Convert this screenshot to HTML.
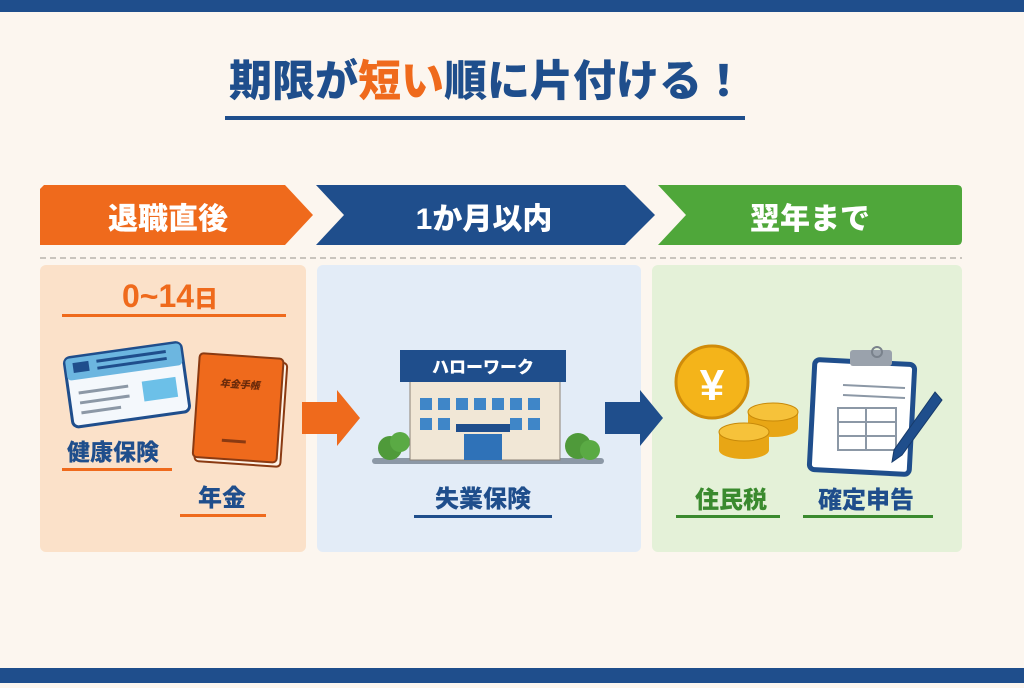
<!DOCTYPE html>
<html><head><meta charset="utf-8"><style>
body{margin:0;width:1024px;height:683px;overflow:hidden;background:#fcf6ef;font-family:"Liberation Sans","Noto Sans CJK JP",sans-serif}
svg text{font-family:"Liberation Sans","Noto Sans CJK JP",sans-serif;font-weight:900}
</style></head><body>
<svg width="1024" height="683" viewBox="0 0 1024 683" xmlns="http://www.w3.org/2000/svg">
<rect width="1024" height="683" fill="#fcf6ef"/>
<rect width="1024" height="12" fill="#1f4e8c"/>
<rect y="668" width="1024" height="15" fill="#1f4e8c"/>
<text x="487" y="96" text-anchor="middle" font-size="43" fill="#1f4e8c">期限が<tspan fill="#ef6a1c">短い</tspan>順に片付ける！</text>
<rect x="225" y="116" width="520" height="4" fill="#1f4e8c"/>
<path d="M44,185 H285 L313,215 L285,245 H40 V189 Z" fill="#ef6a1c"/>
<path d="M316,185 H625 L655,215 L625,245 H316 L344,215 Z" fill="#1f4e8c"/>
<path d="M658,185 H957 Q962,185 962,190 V240 Q962,245 957,245 H658 L686,215 Z" fill="#4fa73a"/>
<text x="168" y="229" text-anchor="middle" font-size="30" fill="#fff">退職直後</text>
<text x="484" y="229" text-anchor="middle" font-size="30" fill="#fff">1か月以内</text>
<text x="810" y="229" text-anchor="middle" font-size="30" fill="#fff">翌年まで</text>
<line x1="40" y1="258" x2="962" y2="258" stroke="#c9c4bd" stroke-width="2" stroke-dasharray="6,4"/>
<rect x="40" y="265" width="266" height="287" rx="6" fill="#fbe1c9"/>
<rect x="317" y="265" width="324" height="287" rx="6" fill="#e3ecf7"/>
<rect x="652" y="265" width="310" height="287" rx="6" fill="#e4f1d8"/>
<text x="170" y="307" text-anchor="middle" font-size="32" fill="#ef6a1c">0~14<tspan font-size="24">日</tspan></text>
<rect x="62" y="314" width="224" height="3" fill="#ef6a1c"/>
<g transform="rotate(-8 125 385)">
<rect x="68" y="350" width="118" height="70" rx="6" fill="#f4f8fc" stroke="#1f4e8c" stroke-width="3"/>
<rect x="69" y="351" width="116" height="22" rx="4" fill="#6cb6e0"/>
<rect x="76" y="356" width="16" height="10" fill="#1f4e8c"/>
<rect x="100" y="356" width="70" height="3" fill="#1f4e8c"/><rect x="100" y="363" width="70" height="3" fill="#1f4e8c"/>
<rect x="142" y="384" width="34" height="20" fill="#6cc0e8"/>
<rect x="78" y="385" width="50" height="3" fill="#8c98a6"/><rect x="78" y="395" width="50" height="3" fill="#8c98a6"/><rect x="78" y="405" width="40" height="3" fill="#8c98a6"/>
</g>
<g transform="rotate(4 240 410)">
<rect x="198" y="360" width="86" height="104" rx="4" fill="#fff3e6" stroke="#8a3a12" stroke-width="2"/>
<rect x="196" y="356" width="84" height="104" rx="4" fill="#ef6a1c" stroke="#8a3a12" stroke-width="2"/>
<text x="238" y="388" text-anchor="middle" font-size="10" fill="#6a2a0a" font-style="italic">年金手帳</text>
<rect x="224" y="440" width="24" height="3" fill="#8a3a12"/>
</g>
<text x="113" y="460" text-anchor="middle" font-size="23" fill="#1f4e8c">健康保険</text>
<rect x="62" y="468" width="110" height="3" fill="#ef6a1c"/>
<text x="222" y="506" text-anchor="middle" font-size="24" fill="#1f4e8c">年金</text>
<rect x="180" y="514" width="86" height="3" fill="#ef6a1c"/>
<path d="M302,402 H337 V390 L360,418 L337,446 V434 H302 Z" fill="#ef6a1c"/>
<rect x="372" y="458" width="232" height="6" rx="3" fill="#8c98a6"/>
<circle cx="390" cy="448" r="12" fill="#4f9a3a"/><circle cx="400" cy="442" r="10" fill="#5aaa44"/>
<circle cx="578" cy="446" r="13" fill="#4f9a3a"/><circle cx="590" cy="450" r="10" fill="#5aaa44"/>
<rect x="410" y="380" width="150" height="80" fill="#f1e7d6" stroke="#8c8276" stroke-width="1"/>
<rect x="400" y="350" width="166" height="32" fill="#1f4e8c"/>
<text x="483" y="373" text-anchor="middle" font-size="17" fill="#fff">ハローワーク</text>
<g fill="#3f86c8">
<rect x="420" y="398" width="12" height="12"/><rect x="438" y="398" width="12" height="12"/><rect x="456" y="398" width="12" height="12"/><rect x="474" y="398" width="12" height="12"/><rect x="492" y="398" width="12" height="12"/><rect x="510" y="398" width="12" height="12"/><rect x="528" y="398" width="12" height="12"/>
<rect x="420" y="418" width="12" height="12"/><rect x="438" y="418" width="12" height="12"/><rect x="510" y="418" width="12" height="12"/><rect x="528" y="418" width="12" height="12"/>
<rect x="464" y="434" width="38" height="26" fill="#2f72b8"/>
</g>
<rect x="456" y="424" width="54" height="8" fill="#1f4e8c"/>
<text x="483" y="507" text-anchor="middle" font-size="24" fill="#1f4e8c">失業保険</text>
<rect x="414" y="515" width="138" height="3" fill="#1f4e8c"/>
<path d="M605,402 H640 V390 L663,418 L640,446 V434 H605 Z" fill="#1f4e8c"/>
<circle cx="712" cy="382" r="36" fill="#f4b41a" stroke="#d08c0a" stroke-width="3"/>
<text x="712" y="400" text-anchor="middle" font-size="44" fill="#fff">¥</text>
<ellipse cx="773" cy="428" rx="25" ry="9" fill="#e8a615"/><rect x="748" y="412" width="50" height="16" fill="#e8a615"/><ellipse cx="773" cy="412" rx="25" ry="9" fill="#f6c23a" stroke="#c88a0a"/>
<ellipse cx="744" cy="450" rx="25" ry="9" fill="#e8a615"/><rect x="719" y="432" width="50" height="18" fill="#e8a615"/><ellipse cx="744" cy="432" rx="25" ry="9" fill="#f6c23a" stroke="#c88a0a"/>
<rect x="812" y="362" width="100" height="110" rx="5" fill="#fff" stroke="#1f4e8c" stroke-width="5" transform="rotate(3 862 417)"/>
<rect x="850" y="350" width="42" height="16" rx="3" fill="#9aa2ac"/>
<circle cx="877" cy="352" r="5" fill="none" stroke="#7a828c" stroke-width="2"/>
<g stroke="#8c98a6" stroke-width="2" fill="none">
<line x1="843" y1="385" x2="905" y2="388"/><line x1="843" y1="395" x2="905" y2="398"/>
<rect x="838" y="408" width="58" height="42"/><line x1="866" y1="408" x2="866" y2="450"/><line x1="838" y1="422" x2="896" y2="422"/><line x1="838" y1="436" x2="896" y2="436"/>
</g>
<path d="M935,392 L942,400 L902,455 L892,462 L894,450 Z" fill="#1f4e8c" stroke="#163a6a"/>
<text x="731" y="508" text-anchor="middle" font-size="24" fill="#3a8a2e">住民税</text>
<rect x="676" y="515" width="104" height="3" fill="#3a8a2e"/>
<text x="866" y="508" text-anchor="middle" font-size="24" fill="#1f4e8c">確定申告</text>
<rect x="803" y="515" width="130" height="3" fill="#3a8a2e"/>
</svg>
</body></html>
